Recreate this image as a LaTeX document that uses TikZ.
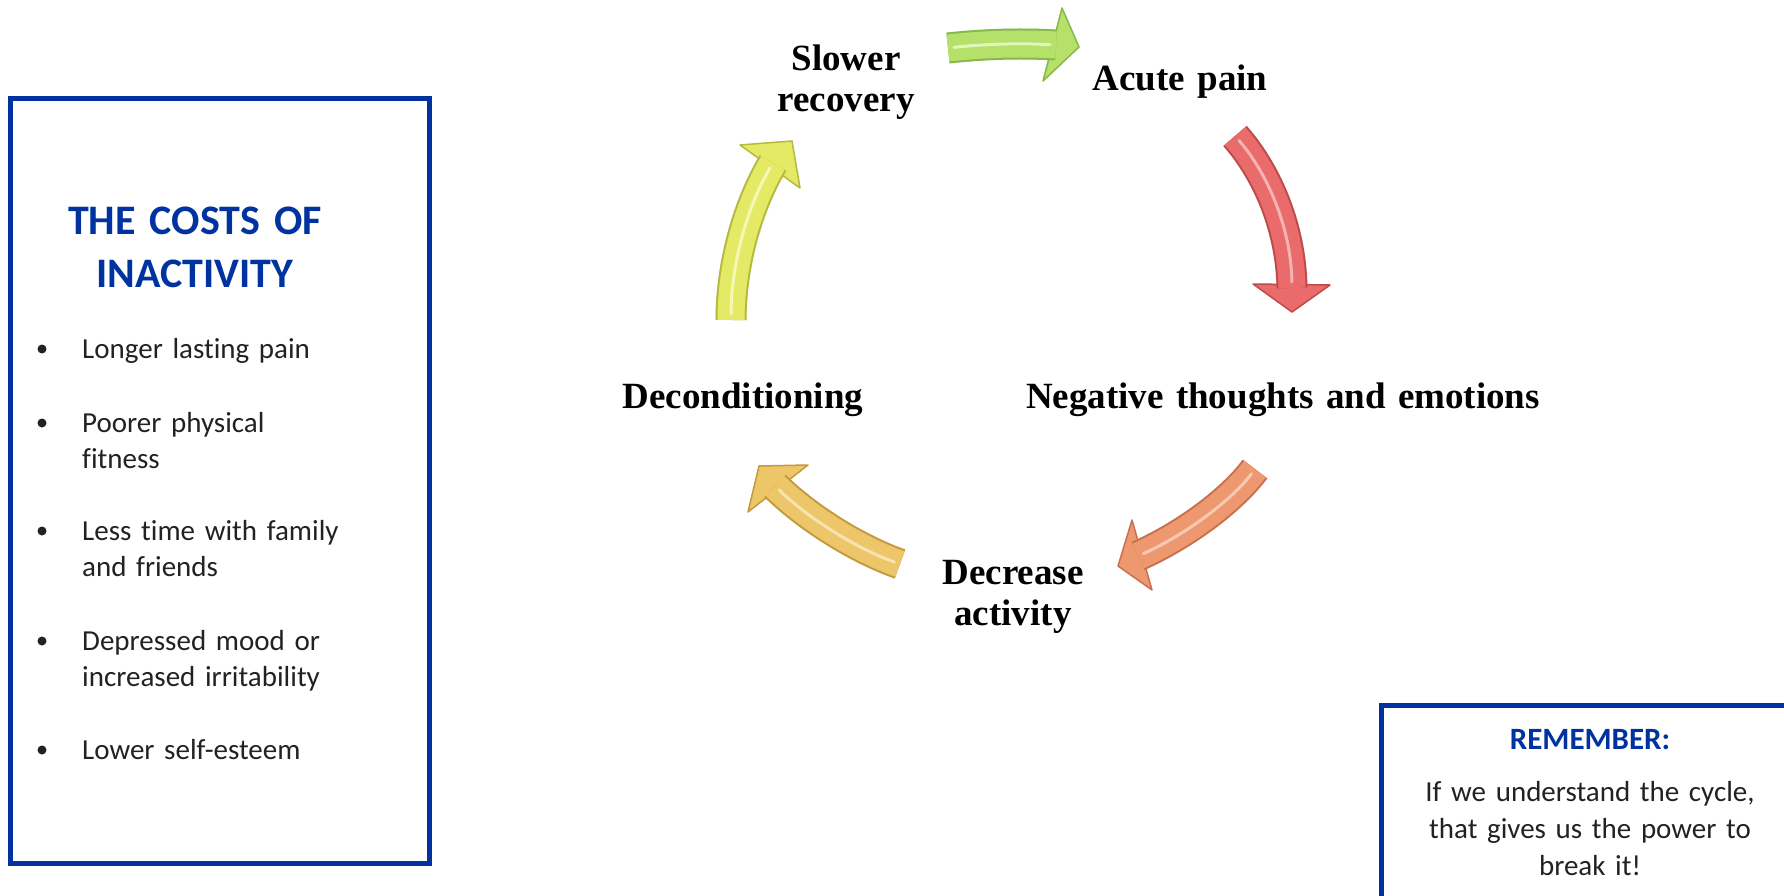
\documentclass[tikz,border=0pt]{standalone}
\usepackage{fontspec}
\setmainfont{Liberation Serif}
\newfontfamily\carl[Ligatures=NoCommon]{Carlito}
\definecolor{boxblue}{HTML}{0033A0}
\definecolor{txtdark}{HTML}{222222}
\definecolor{grF}{HTML}{B5E06A}\definecolor{grE}{HTML}{86B84A}\definecolor{grH}{HTML}{E2F6BC}
\definecolor{rdF}{HTML}{E96B6B}\definecolor{rdE}{HTML}{BF4A4A}\definecolor{rdH}{HTML}{F6B3B3}
\definecolor{orF}{HTML}{EE9870}\definecolor{orE}{HTML}{C9714F}\definecolor{orH}{HTML}{F8C9B2}
\definecolor{gdF}{HTML}{EDC66A}\definecolor{gdE}{HTML}{C49A3C}\definecolor{gdH}{HTML}{F8E3AE}
\definecolor{ywF}{HTML}{E4EA66}\definecolor{ywE}{HTML}{B5BA3C}\definecolor{ywH}{HTML}{F5F8B5}
\newcommand{\cycarrow}[8]{%
  \begin{scope}[shift={(3,4)}, opacity=0.12]
    \fill[black] (#6) -- (#7) -- (#8) -- cycle;
    \draw[black, line width=31pt] (#2) .. controls (#3) and (#4) .. (#5);
  \end{scope}
  \fill[#1F, draw=#1E, line width=1.5pt, line join=round] (#6) -- (#7) -- (#8) -- cycle;
  \draw[#1E, line width=31pt] (#2) .. controls (#3) and (#4) .. (#5);
  \draw[#1F, line width=27pt] (#2) .. controls (#3) and (#4) .. (#5);
  \draw[#1H, line width=3pt, line cap=round, shorten <=6pt, shorten >=6pt] (#2) .. controls (#3) and (#4) .. (#5);
}
\tikzset{
  cyc/.style={font=\fontsize{37}{41}\selectfont\bfseries, inner sep=0pt, anchor=base, align=center, text width=520pt, text=black},
  costtitle/.style={font=\carl\bfseries\fontsize{42}{53}\selectfont, inner sep=0pt, anchor=base, align=center, text width=400pt, text=boxblue},
  costitem/.style={font=\carl\fontsize{29}{36}\selectfont, inner sep=0pt, anchor=base west, align=left, text width=320pt, text=txtdark},
  remtitle/.style={font=\carl\bfseries\fontsize{31}{37}\selectfont, inner sep=0pt, anchor=base, align=center, text width=400pt, text=boxblue},
  remtext/.style={font=\carl\fontsize{29}{37}\selectfont, inner sep=0pt, anchor=base, align=center, text width=400pt, text=txtdark},
  boxline/.style={draw=boxblue, line width=5pt},
}
\begin{document}
\begin{tikzpicture}[x=1pt,y=-1pt]
\useasboundingbox (0,0) rectangle (1784,896);
\fill[white] (0,0) rectangle (1784,896);

% cycle labels
\node[cyc] (slow) at (846,71) {Slower\\recovery};
\node[cyc] (acute) at (1180,91) {Acute pain};
\node[cyc] (neg) at (1283,408) {Negative thoughts and emotions};
\node[cyc] (decond) at (743,408) {Deconditioning};
\node[cyc] (decr) at (1013,584) {Decrease\\activity};

% arrow coordinates
\coordinate (gT) at (948,48);   \coordinate (gC1) at (985,44);  \coordinate (gC2) at (1020,43); \coordinate (gB) at (1056,45);
\coordinate (gb1) at (1062,8);  \coordinate (gP) at (1079,47);  \coordinate (gb2) at (1043,81);
\coordinate (rT) at (1235,136); \coordinate (rC1) at (1265,170); \coordinate (rC2) at (1291,225); \coordinate (rB) at (1292,288);
\coordinate (rb1) at (1253,284); \coordinate (rP) at (1292,312); \coordinate (rb2) at (1330,285);
\coordinate (oT) at (1255,469); \coordinate (oC1) at (1232,500); \coordinate (oC2) at (1185,535); \coordinate (oB) at (1138,556);
\coordinate (ob1) at (1132,520); \coordinate (oP) at (1118,566); \coordinate (ob2) at (1152,590);
\coordinate (dT) at (900,564);  \coordinate (dC1) at (860,550); \coordinate (dC2) at (810,520); \coordinate (dB) at (775,486);
\coordinate (db1) at (748,512); \coordinate (dP) at (759,466); \coordinate (db2) at (808,465);
\coordinate (yT) at (731,320);  \coordinate (yC1) at (731,270); \coordinate (yC2) at (745,210); \coordinate (yB) at (773,163);
\coordinate (yb1) at (740,145); \coordinate (yP) at (792,141); \coordinate (yb2) at (800,188);

\cycarrow{gr}{gT}{gC1}{gC2}{gB}{gb1}{gP}{gb2}
\cycarrow{rd}{rT}{rC1}{rC2}{rB}{rb1}{rP}{rb2}
\cycarrow{or}{oT}{oC1}{oC2}{oB}{ob1}{oP}{ob2}
\cycarrow{gd}{dT}{dC1}{dC2}{dB}{db1}{dP}{db2}
\cycarrow{yw}{yT}{yC1}{yC2}{yB}{yb1}{yP}{yb2}

% left box
\draw[boxline] (10,99) rectangle (429,863);
\node[costtitle] (ctitle) at (195,234) {THE COSTS OF\\INACTIVITY};
\foreach \yy in {358,432,540,650,759} \fill[txtdark] (42,\yy-9) circle (4.5);
\node[costitem] (i1) at (82,358) {Longer lasting pain};
\node[costitem] (i2) at (82,432) {Poorer physical\\fitness};
\node[costitem] (i3) at (82,540) {Less time with family\\and friends};
\node[costitem] (i4) at (82,650) {Depressed mood or\\increased irritability};
\node[costitem] (i5) at (82,759) {Lower self-esteem};

% right box
\draw[boxline] (1381,896) -- (1381,705) -- (1784,705);
\node[remtitle] (rem) at (1590,749) {REMEMBER:};
\node[remtext] (remtxt) at (1590,801) {If we understand the cycle,\\that gives us the power to\\break it!};
\end{tikzpicture}
\end{document}
